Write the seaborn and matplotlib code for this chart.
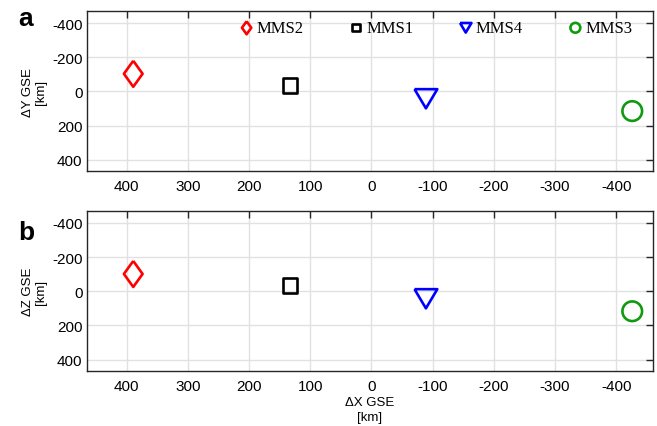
import matplotlib
matplotlib.use("Agg")
import matplotlib.pyplot as plt
import seaborn as sns
import pandas as pd

# spacecraft separations (km, GSE)
craft = ["MMS2", "MMS1", "MMS4", "MMS3"]
dx = [389, 133, -89, -426]
dy = [-103, -34, 43, 115]
dz = [-101, -33, 44, 117]
colors = ["#ff0000", "#000000", "#0000ff", "#109a10"]

xticks = [400, 300, 200, 100, 0, -100, -200, -300, -400]
yticks = [-400, -200, 0, 200, 400]

sns.set_theme(style="whitegrid", rc={
    "grid.color": "#e1e1e1",
    "grid.linewidth": 1.0,
    "axes.edgecolor": "#262626",
    "axes.linewidth": 1.0,
    "text.color": "black",
    "axes.labelcolor": "black",
    "axes.unicode_minus": False,
})
plt.rcParams["font.family"] = ["Liberation Sans", "DejaVu Sans"]

df = pd.DataFrame({"craft": craft, "dx": dx, "dy": dy, "dz": dz})

markers = {
    "MMS2": [(0, 1), (0.72, 0), (0, -1), (-0.72, 0), (0, 1)],
    "MMS1": "s",
    "MMS4": [(-1, 0.84), (1, 0.84), (0, -0.84), (-1, 0.84)],
    "MMS3": "o",
}
sizes = {"MMS2": 350, "MMS1": 115, "MMS4": 270, "MMS3": 200}

fig = plt.figure(figsize=(6.57, 4.27), dpi=100)
ax1 = fig.add_axes([0.132, 0.597, 0.862, 0.374])
ax2 = fig.add_axes([0.132, 0.129, 0.862, 0.374])

for ax, ycol, ylab in [(ax1, "dy", "\u0394Y GSE\n[km]"), (ax2, "dz", "\u0394Z GSE\n[km]")]:
    for name, c in zip(craft, colors):
        sub = df[df["craft"] == name]
        sns.scatterplot(data=sub, x="dx", y=ycol, ax=ax, marker=markers[name],
                        s=sizes[name], facecolors="none", edgecolor=c,
                        linewidth=1.9, label=name, zorder=3)
    ax.set_xlim(465, -460)
    ax.set_ylim(466, -468)
    ax.set_xticks(xticks)
    ax.set_yticks(yticks)
    ax.tick_params(direction="in", length=5, width=1, top=True, right=True,
                   labelsize=11, colors="#262626", labelcolor="black")
    ax.tick_params(axis="x", pad=6)
    ax.tick_params(axis="y", pad=3)
    ax.set_ylabel(ylab, fontsize=9.5, linespacing=1.1)
    ax.yaxis.set_label_coords(-0.07, 0.5)
    ax.set_xlabel("")
    for sp in ax.spines.values():
        sp.set_visible(True)

ax2.get_legend().remove()
leg = ax1.legend(loc="center", bbox_to_anchor=(0.617, 0.895), ncol=4, frameon=False,
                 markerscale=0.5, handlelength=0.8, handletextpad=0.2,
                 columnspacing=2.75, prop={"family": "Liberation Serif", "size": 12})

ax2.set_xlabel("\u0394X GSE\n[km]", fontsize=9.5, linespacing=1.3, labelpad=2)

fig.text(0.028, 0.955, "a", fontsize=19, fontweight="bold", va="center")
fig.text(0.028, 0.455, "b", fontsize=19, fontweight="bold", va="center")

fig.savefig("out.png", dpi=100)
